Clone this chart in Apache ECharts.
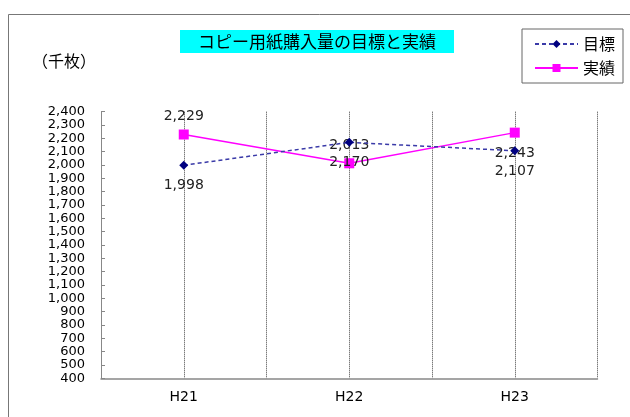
<!DOCTYPE html>
<html><head><meta charset="utf-8">
<script src="https://cdn.jsdelivr.net/npm/echarts@6/dist/echarts.min.js"></script>
<style>html,body{margin:0;padding:0;background:#fff}#c{width:630px;height:417px}</style>
</head><body><div id="c"></div>
<script>
const categories = ['H21', 'H22', 'H23'];
const targetValues = [1998, 2170, 2107];
const actualValues = [2229, 2013, 2243];
const seriesNames = ['目標', '実績'];
const titleText = 'コピー用紙購入量の目標と実績';
const unitText = '（千枚）';

const FONT = '"DejaVu Sans", "Noto Sans CJK JP", sans-serif';
const JFONT = '"Noto Sans CJK JP", sans-serif';
const chart = echarts.init(document.getElementById('c'));
const fmt = v => Number(v).toLocaleString('en-US');

chart.setOption({
  animation: false,
  backgroundColor: '#fff',
  textStyle: { fontFamily: FONT },
  title: {
    text: titleText,
    left: 180, top: 30,
    padding: [3, 18, 3, 18],
    backgroundColor: '#00ffff',
    textStyle: { fontFamily: JFONT, fontSize: 17, fontWeight: 'normal', color: '#000', lineHeight: 17 }
  },
  graphic: [
    { type: 'rect', shape: { x: 8.5, y: 14.5, width: 700, height: 500 }, style: { fill: 'none', stroke: '#777', lineWidth: 1 }, silent: true },
    { type: 'text', left: 32, top: 53, style: { text: unitText, font: '16px ' + JFONT, fill: '#000' } }
  ],
  legend: {
    orient: 'vertical',
    left: 522, top: 29,
    padding: [7, 8, 7, 12],
    itemGap: 8,
    itemWidth: 43, itemHeight: 10,
    borderColor: '#666', borderWidth: 1,
    textStyle: { fontFamily: JFONT, fontSize: 16, color: '#000' },
    data: seriesNames
  },
  grid: { left: 101, right: 32.5, top: 111.7, bottom: 38.7, containLabel: false },
  xAxis: [
    {
      type: 'category', data: categories, boundaryGap: true,
      axisLine: { lineStyle: { color: '#888', width: 1.5 } },
      axisTick: { show: false },
      axisLabel: { fontFamily: FONT, fontSize: 14, color: '#000', margin: 12 },
      splitLine: { show: false }
    },
    {
      type: 'value', min: 0, max: 3, interval: 0.5, position: 'bottom',
      axisLine: { show: false }, axisTick: { show: false }, axisLabel: { show: false },
      splitLine: { show: true, lineStyle: { color: '#444', type: [1, 1], width: 1 } }
    }
  ],
  yAxis: {
    type: 'value', min: 400, max: 2400, interval: 100,
    axisLine: { show: true, lineStyle: { color: '#888' } },
    axisTick: { show: true, inside: true, length: 4, lineStyle: { color: '#888' } },
    axisLabel: { fontFamily: FONT, fontSize: 13, color: '#000', margin: 16, formatter: fmt, lineHeight: 13 },
    splitLine: { show: false }
  },
  series: [
    {
      name: seriesNames[0], type: 'line', data: targetValues,
      symbol: 'diamond', symbolSize: 9,
      itemStyle: { color: '#000080' },
      lineStyle: { color: '#3a3aa8', type: [4, 3], width: 1.5 },
      label: { show: true, position: 'bottom', distance: 9, formatter: p => fmt(p.value), fontFamily: FONT, fontSize: 14, color: '#222' },
      z: 3
    },
    {
      name: seriesNames[1], type: 'line',
      data: actualValues.map((v, i) => i === 2
        ? { value: v, label: { position: 'bottom', distance: 9 } }
        : { value: v }),
      symbol: 'rect', symbolSize: 10,
      itemStyle: { color: '#ff00ff' },
      lineStyle: { color: '#ff00ff', width: 1.5 },
      label: { show: true, position: 'top', distance: 6, formatter: p => fmt(p.value), fontFamily: FONT, fontSize: 14, color: '#222' },
      z: 2
    }
  ]
});
</script></body></html>
